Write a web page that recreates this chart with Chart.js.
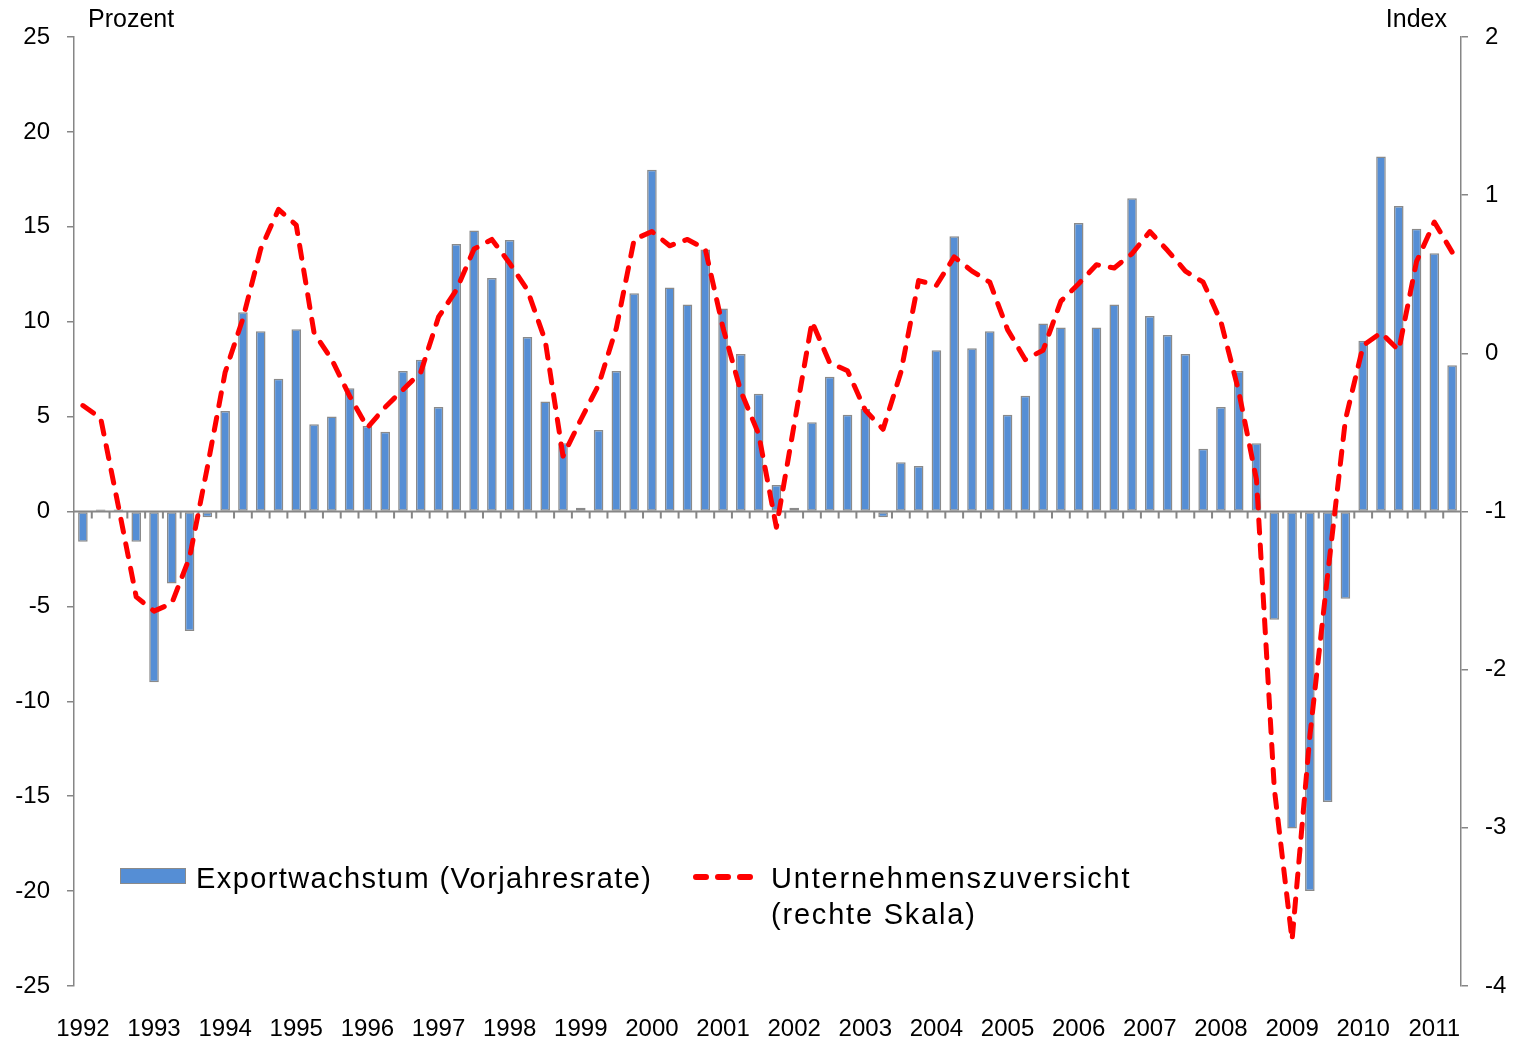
<!DOCTYPE html>
<html lang="de">
<head>
  <meta charset="UTF-8">
  <title>Exportwachstum und Unternehmenszuversicht</title>
  <script src="https://cdn.jsdelivr.net/npm/chart.js"></script>
  <style>
    html, body {
      margin: 0;
      padding: 0;
      background: #fff;
    }
    body {
      font-family: "Liberation Sans", Arial, sans-serif;
      color: #000;
    }
    #wrap {
      position: relative;
      width: 1520px;
      height: 1040px;
    }
    #chart {
      position: absolute;
      left: 0;
      top: 0;
    }
    .title {
      position: absolute;
      top: 5px;
      font-size: 25px;
      line-height: 26px;
    }
    .legend-text {
      position: absolute;
      font-size: 29px;
      line-height: 36px;
      letter-spacing: 1.4px;
      white-space: nowrap;
    }
    #barSwatch {
      position: absolute;
      left: 120px;
      top: 868px;
      width: 64px;
      height: 14px;
      background: #558ed5;
      border: 1px solid #8a8a8a;
    }
    #lineSwatch {
      position: absolute;
      left: 690px;
      top: 870px;
    }
  </style>
</head>
<body>
  <div id="wrap">
    <canvas id="chart" width="1520" height="1040"></canvas>
    <div class="title" style="left:88px">Prozent</div>
    <div class="title" style="right:73px">Index</div>
    <div id="barSwatch"></div>
    <div class="legend-text" style="left:196px; top:860px">Exportwachstum (Vorjahresrate)</div>
    <svg id="lineSwatch" width="72" height="14">
      <line x1="6" y1="7" x2="66" y2="7" stroke="#ff0000" stroke-width="6"
            stroke-linecap="round" stroke-dasharray="10 12"/>
    </svg>
    <div class="legend-text" style="left:771px; top:860px; letter-spacing:1.8px">Unternehmenszuversicht<br>(rechte Skala)</div>
  </div>

  <script>
    // Quartale 1992 Q1 bis 2011 Q2
    const years = [1992, 1993, 1994, 1995, 1996, 1997, 1998, 1999, 2000, 2001,
                   2002, 2003, 2004, 2005, 2006, 2007, 2008, 2009, 2010, 2011];
    const quartersLast = 2; // 2011 endet mit Q2

    // Exportwachstum, Vorjahresrate in Prozent (linke Skala)
    const exportGrowth = [
      -1.6, 0.1, 0.1, -1.6,
      -9.0, -3.8, -6.3, -0.3,
      5.3, 10.5, 9.5, 7.0,
      9.6, 4.6, 5.0, 6.5,
      4.5, 4.2, 7.4, 8.0,
      5.5, 14.1, 14.8, 12.3,
      14.3, 9.2, 5.8, 3.6,
      0.2, 4.3, 7.4, 11.5,
      18.0, 11.8, 10.9, 13.8,
      10.7, 8.3, 6.2, 1.4,
      0.2, 4.7, 7.1, 5.1,
      5.4, -0.3, 2.6, 2.4,
      8.5, 14.5, 8.6, 9.5,
      5.1, 6.1, 9.9, 9.7,
      15.2, 9.7, 10.9, 16.5,
      10.3, 9.3, 8.3, 3.3,
      5.5, 7.4, 3.6, -5.7,
      -16.7, -20.0, -15.3, -4.6,
      9.0, 18.7, 16.1, 14.9,
      13.6, 7.7
    ];

    // Unternehmenszuversicht, Index (rechte Skala)
    const confidence = [
      -0.33, -0.41, -0.97, -1.54,
      -1.63, -1.58, -1.29, -0.72,
      -0.12, 0.22, 0.66, 0.91,
      0.81, 0.13, -0.04, -0.27,
      -0.47, -0.34, -0.23, -0.12,
      0.23, 0.40, 0.66, 0.72,
      0.57, 0.40, 0.08, -0.65,
      -0.42, -0.20, 0.16, 0.72,
      0.77, 0.68, 0.72, 0.66,
      0.16, -0.24, -0.51, -1.10,
      -0.45, 0.20, -0.06, -0.11,
      -0.36, -0.48, -0.12, 0.46,
      0.43, 0.61, 0.52, 0.45,
      0.15, -0.04, 0.02, 0.33,
      0.44, 0.56, 0.54, 0.63,
      0.77, 0.65, 0.52, 0.45,
      0.20, -0.24, -0.80, -2.75,
      -3.71, -2.42, -1.40, -0.42,
      0.05, 0.13, 0.02, 0.58,
      0.83, 0.64
    ];

    const categories = [];
    years.forEach((yr, k) => {
      const n = k === years.length - 1 ? quartersLast : 4;
      for (let q = 1; q <= n; q++) categories.push(yr + ' Q' + q);
    });

    const axisColor = '#868686';
    const tickFont = { family: "'Liberation Sans', Arial, sans-serif", size: 24 };

    // waagerechte Achse bei 0 mit Teilstrichen zwischen den Quartalen
    const zeroAxis = {
      id: 'zeroAxis',
      beforeDatasetsDraw(chart) {
        const { ctx, chartArea, scales: { x, y } } = chart;
        const y0 = y.getPixelForValue(0);
        const step = x.getPixelForValue(1) - x.getPixelForValue(0);
        const start = x.getPixelForValue(0) - step / 2;
        ctx.save();
        ctx.strokeStyle = axisColor;
        ctx.lineWidth = 2;
        ctx.beginPath();
        ctx.moveTo(chartArea.left, y0);
        ctx.lineTo(chartArea.right, y0);
        for (let i = 1; i < categories.length; i++) {
          const px = start + i * step;
          ctx.moveTo(px, y0);
          ctx.lineTo(px, y0 + 7);
        }
        ctx.stroke();
        ctx.restore();
      }
    };

    const ctx = document.getElementById('chart').getContext('2d');
    const chart = new Chart(ctx, {
      type: 'bar',
      data: {
        labels: categories,
        datasets: [{
          type: 'line',
          label: 'Unternehmenszuversicht (rechte Skala)',
          data: confidence,
          yAxisID: 'y1',
          borderColor: '#ff0000',
          borderWidth: 5,
          borderDash: [13, 12],
          borderCapStyle: 'round',
          borderJoinStyle: 'round',
          pointRadius: 0,
          tension: 0,
          order: 0
        }, {
          type: 'bar',
          label: 'Exportwachstum (Vorjahresrate)',
          data: exportGrowth,
          yAxisID: 'y',
          backgroundColor: '#558ed5',
          borderColor: '#8a8a8a',
          borderWidth: 1.5,
          borderSkipped: false,
          categoryPercentage: 1,
          barPercentage: 0.54,
          order: 1
        }]
      },
      options: {
        responsive: false,
        animation: false,
        layout: { padding: { top: 37, left: 0, right: 0, bottom: 0 } },
        plugins: {
          legend: { display: false },
          tooltip: { enabled: false }
        },
        scales: {
          x: {
            offset: true,
            grid: { display: false, drawTicks: false },
            border: { display: false },
            ticks: {
              autoSkip: false,
              maxRotation: 0,
              padding: 29,
              color: '#000',
              font: tickFont,
              callback: (v, i) => i % 4 === 0 ? categories[i].slice(0, 4) : ''
            },
            afterFit(s) { s.height = 54; }
          },
          y: {
            position: 'left',
            min: -25,
            max: 25,
            ticks: { stepSize: 5, padding: 17, color: '#000', font: tickFont },
            grid: { drawOnChartArea: false, tickLength: 7, color: axisColor, lineWidth: 1.5 },
            border: { color: axisColor, width: 1.5 },
            afterFit(s) { s.width = 74; }
          },
          y1: {
            position: 'right',
            min: -4,
            max: 2,
            ticks: { stepSize: 1, padding: 17, color: '#000', font: tickFont },
            grid: { drawOnChartArea: false, tickLength: 7, color: axisColor, lineWidth: 1.5 },
            border: { color: axisColor, width: 1.5 },
            afterFit(s) { s.width = 59; }
          }
        }
      },
      plugins: [zeroAxis]
    });
  </script>
</body>
</html>
